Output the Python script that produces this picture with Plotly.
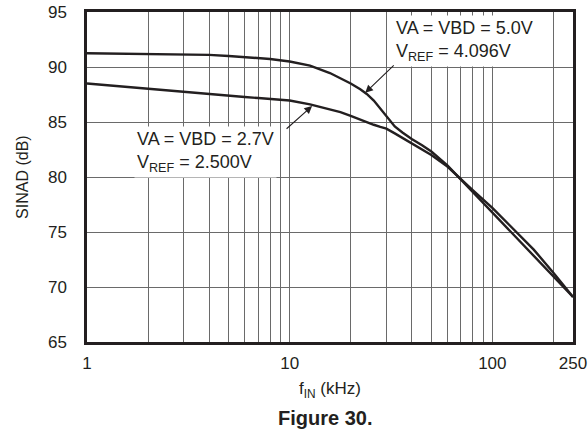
import math
import plotly.graph_objects as go

# frequency points (kHz)
freq_khz = [1, 2, 3, 4, 5, 6, 7, 8, 10, 12.6, 15.8, 17.8, 20, 22.3, 24, 26,
            28, 30, 33, 36, 40, 45, 50, 60, 68, 80, 100, 125, 160, 200, 250]

# SINAD (dB), VA = VBD = 5.0V, VREF = 4.096V
sinad_5v0 = [91.25, 91.2, 91.15, 91.1, 91.0, 90.92, 90.83, 90.73, 90.5,
             90.12, 89.45, 89.0, 88.5, 87.98, 87.55, 86.95, 86.25, 85.5,
             84.6, 84.05, 83.45, 82.88, 82.32, 81.05, 80.0, 78.6, 76.75,
             74.85, 72.85, 71.0, 69.1]

# SINAD (dB), VA = VBD = 2.7V, VREF = 2.500V
sinad_2v7 = [88.5, 88.0, 87.72, 87.52, 87.36, 87.27, 87.18, 87.1, 86.95,
             86.6, 86.1, 85.9, 85.55, 85.2, 84.95, 84.75, 84.55, 84.4,
             83.97, 83.55, 83.06, 82.5, 82.0, 80.95, 80.0, 78.8, 77.2,
             75.4, 73.4, 71.3, 69.1]

x_grid = [1, 2, 3, 4, 5, 6, 7, 8, 9, 10, 20, 30, 40, 50, 60, 70, 80, 90,
          100, 200, 250]
x_labels = {1: "1", 10: "10", 100: "100", 250: "250"}
y_ticks = [65, 70, 75, 80, 85, 90, 95]

INK = "#231F20"
FONT = "Liberation Sans, Arial, sans-serif"

fig = go.Figure()

for ys in (sinad_5v0, sinad_2v7):
    fig.add_trace(go.Scatter(
        x=freq_khz, y=ys, mode="lines",
        line=dict(color=INK, width=2.4),
        hoverinfo="skip", showlegend=False,
    ))

lg = math.log10
annotations = [
    # 5.0V label + arrow
    dict(x=lg(32.5), y=92.32, xref="x", yref="y",
         text="VA = VBD = 5.0V<br>V<sub>REF</sub> = 4.096V",
         xanchor="left", yanchor="middle", align="left", showarrow=False,
         bgcolor="white", borderpad=2, font=dict(size=18, color=INK)),
    dict(x=lg(23.6), y=87.65, xref="x", yref="y", text="", showarrow=True,
         ax=30, ay=-29, arrowhead=2, arrowsize=1.4, arrowwidth=1.1,
         arrowcolor=INK, standoff=0),
    # 2.7V label + arrow
    dict(x=lg(1.71), y=82.27, xref="x", yref="y",
         text="VA = VBD = 2.7V<br>V<sub>REF</sub> = 2.500V",
         xanchor="left", yanchor="middle", align="left", showarrow=False,
         bgcolor="white", borderpad=2, font=dict(size=18, color=INK)),
    dict(x=lg(12.9), y=86.45, xref="x", yref="y", text="", showarrow=True,
         ax=-27, ay=24, arrowhead=2, arrowsize=1.4, arrowwidth=1.1,
         arrowcolor=INK, standoff=0),
    # axis titles + caption
    dict(x=-0.134, y=0.5, xref="paper", yref="paper", text="SINAD (dB)",
         textangle=-90, showarrow=False, xanchor="center", yanchor="middle",
         font=dict(size=16, color=INK)),
    dict(x=0.5, y=-0.146, xref="paper", yref="paper",
         text="f<sub>IN</sub> (kHz)", showarrow=False,
         xanchor="center", yanchor="middle", font=dict(size=17, color=INK)),
    dict(x=0.49, y=-0.23, xref="paper", yref="paper",
         text="<b>Figure 30.</b>", showarrow=False,
         xanchor="center", yanchor="middle", font=dict(size=20, color=INK)),
]

fig.update_layout(
    width=588, height=429,
    margin=dict(l=87, r=15, t=12, b=87, autoexpand=False),
    paper_bgcolor="white", plot_bgcolor="white",
    font=dict(family=FONT, size=17, color=INK),
    annotations=annotations,
    showlegend=False,
)
fig.update_xaxes(
    type="log", range=[0, lg(250)], automargin=False,
    tickvals=x_grid, ticktext=[x_labels.get(v, "") for v in x_grid],
    showgrid=True, gridcolor="#6a6a6a", gridwidth=1,
    showline=True, linecolor=INK, linewidth=2.5, mirror=True,
    ticks="", ticklabelstandoff=4, zeroline=False,
)
fig.update_yaxes(
    range=[65, 95], tickvals=y_ticks, automargin=False,
    showgrid=True, gridcolor="#6a6a6a", gridwidth=1,
    showline=True, linecolor=INK, linewidth=2.5, mirror=True,
    ticks="", ticklabelstandoff=14, zeroline=False,
)

# drop the default 8px body margin so the figure fills the window exactly
fig.write_html("out.html", config={"displayModeBar": False}, post_script=(
    "document.body.style.margin='0';"
    "document.body.style.overflow='hidden';"
))
